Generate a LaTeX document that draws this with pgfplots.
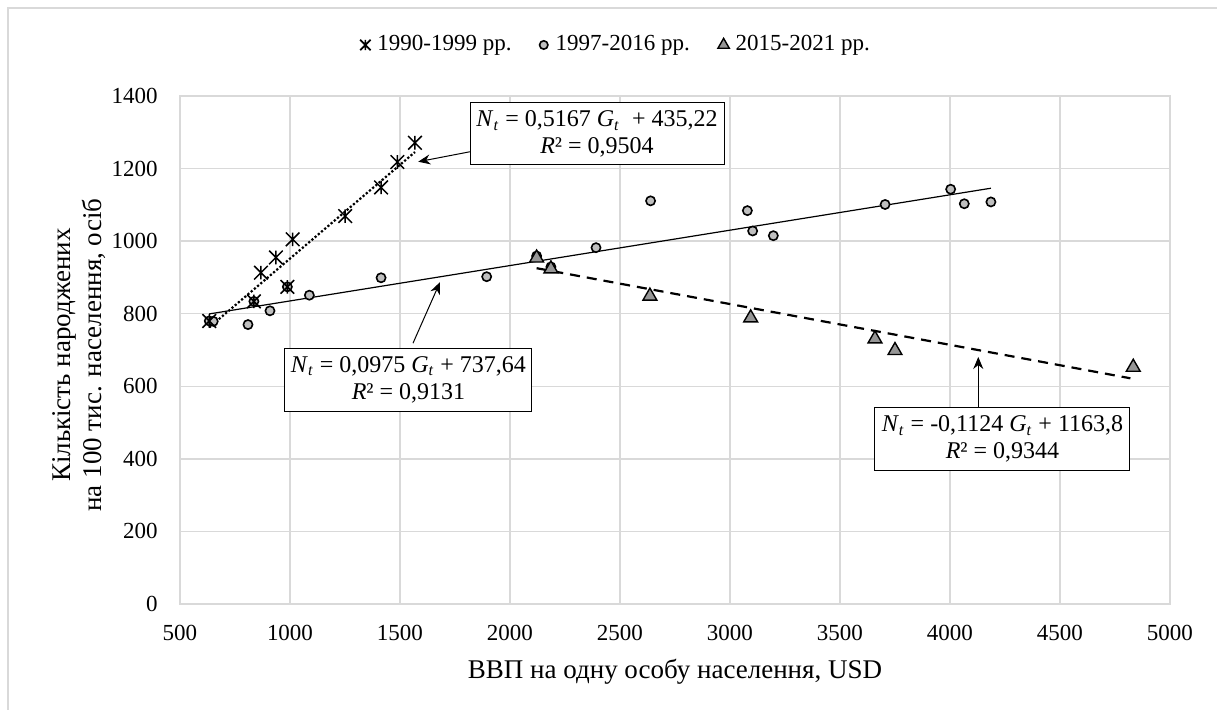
\documentclass[border=0pt]{standalone}
\usepackage{fontspec}
\setmainfont{Liberation Serif}
\usepackage{pgfplots}
\usepackage{pgfplotstable}
\pgfplotsset{compat=1.18}
\usetikzlibrary{arrows.meta}
\definecolor{gridc}{RGB}{217,217,217}
\definecolor{circf}{RGB}{191,191,191}
\definecolor{trif}{RGB}{150,150,150}
\pgfdeclareplotmark{exstar}{%
  \pgfpathmoveto{\pgfqpoint{-\pgfplotmarksize}{-\pgfplotmarksize}}%
  \pgfpathlineto{\pgfqpoint{\pgfplotmarksize}{\pgfplotmarksize}}%
  \pgfpathmoveto{\pgfqpoint{-\pgfplotmarksize}{\pgfplotmarksize}}%
  \pgfpathlineto{\pgfqpoint{\pgfplotmarksize}{-\pgfplotmarksize}}%
  \pgfpathmoveto{\pgfqpoint{0pt}{-\pgfplotmarksize}}%
  \pgfpathlineto{\pgfqpoint{0pt}{\pgfplotmarksize}}%
  \pgfusepathqstroke}

\pgfplotstableread{
x y
633 780
868 913
936 955
1012 1005
988 874
836 834
1251 1069
1414 1148
1488 1218
1568 1271
}\stars

\pgfplotstableread{
x y
633 780
651 779
809 770
836 834
909 808
988 874
1088 851
1414 899
1894 902
2121 959
2186 929
2391 982
2639 1111
3079 1084
3103 1028
3197 1015
3705 1101
4003 1143
4065 1103
4186 1108
}\circs

\pgfplotstableread{
x y
2121 959
2186 929
2636 854
3094 794
3659 736
3750 704
4833 658
}\tris

\begin{document}
\fontsize{11.5}{13.5}\selectfont
\begin{tikzpicture}
\useasboundingbox (0,0) rectangle (608.5pt,355pt);
\draw[gridc, line width=0.6pt] (4pt,0pt) -- (4pt,351pt) -- (608.5pt,351pt);
\begin{axis}[
  at={(90pt,53pt)}, anchor=south west,
  scale only axis, width=495pt, height=254pt,
  xmin=500, xmax=5000, ymin=0, ymax=1400,
  xtick={500,1000,...,5000}, ytick={0,200,...,1400},
  /pgf/number format/1000 sep={},
  /pgf/number format/assume math mode=true,
  grid=major, grid style={gridc, line width=0.7pt},
  axis line style={gridc, line width=0.7pt},
  major tick length=0pt,
  xticklabel style={yshift=-6.7pt},
  yticklabel style={xshift=-7.2pt},
  xlabel={ВВП на одну особу населення, USD},
  xlabel style={at={(axis description cs:0.5,-0.1457)}, anchor=base, font=\fontsize{13.5}{15.5}\selectfont},
  ylabel={Кількість народжених\\на 100 тис. населення, осіб},
  ylabel style={align=center, at={(axis description cs:-0.102,0.490)}, anchor=center, font=\fontsize{13.5}{15.3}\selectfont},
  clip=false,
  legend style={draw=none, fill=none, at={(axis description cs:0.4414,1.1004)}, anchor=center,
    /tikz/every even column/.append style={column sep=12pt}},
  legend columns=3,
  legend image code/.code={\draw[#1] plot coordinates {(0pt,0pt)}; \path[draw=none, fill=none] (0pt,0pt) rectangle (4pt,0.1pt);},
]
% trend lines
\addplot[black, line width=1.1pt, densely dotted, forget plot] coordinates {(633,762.3) (1568,1245.4)};
\addplot[black, line width=0.6pt, forget plot] coordinates {(633,799.4) (4186,1145.8)};
\addplot[black, line width=1.1pt, dash pattern=on 5pt off 3.5pt, forget plot] coordinates {(2121,925.4) (4820,622.0)};
% markers
\addplot[only marks, mark=*, mark size=2.3pt, mark options={fill=circf, draw=black, line width=0.8pt}, forget plot] table {\circs};
\addplot[only marks, mark=exstar, mark size=3.4pt, mark options={draw=black, line width=0.75pt}, forget plot] table {\stars};
\addplot[only marks, mark=triangle*, mark size=4pt, mark options={fill=trif, draw=black, line width=0.7pt, yshift=-1pt}, forget plot] table {\tris};
% legend
\addlegendimage{only marks, mark=exstar, mark size=2.6pt, mark options={draw=black, line width=0.85pt}}
\addlegendentry{1990-1999 рр.}
\addlegendimage{only marks, mark=*, mark size=2.1pt, mark options={fill=circf, draw=black, line width=0.8pt}}
\addlegendentry{1997-2016 рр.}
\addlegendimage{only marks, mark=triangle*, mark size=3.3pt, mark options={fill=trif, draw=black, line width=0.7pt}}
\addlegendentry{2015-2021 рр.}
% annotations
\draw[-{Stealth[length=6pt,width=5pt]}, line width=0.5pt] (axis cs:1818,1246.3) -- (axis cs:1583,1218.8);
\draw[-{Stealth[length=6pt,width=5pt]}, line width=0.5pt] (axis cs:1559,718.6) -- (axis cs:1681.8,886.9);
\draw[-{Stealth[length=6pt,width=5pt]}, line width=0.5pt] (axis cs:4128.6,542.1) -- (axis cs:4128.6,680.8);
\begin{scope}[every node/.style={draw=black, fill=white, line width=0.5pt, align=center, inner sep=0pt, font=\fontsize{12}{13.5}\selectfont}]
\node[minimum width=127pt, minimum height=31pt]
  at (axis cs:2395.5,1295.5) {\textit{N}\textsubscript{\textit{t}} = 0,5167 \textit{G}\textsubscript{\textit{t}}\ \ + 435,22\\\textit{R}² = 0,9504};
\node[minimum width=123.5pt, minimum height=31.5pt]
  at (axis cs:1538.6,618) {\textit{N}\textsubscript{\textit{t}} = 0,0975 \textit{G}\textsubscript{\textit{t}} + 737,64\\\textit{R}² = 0,9131};
\node[minimum width=127.5pt, minimum height=31.5pt]
  at (axis cs:4238.6,455.2) {\textit{N}\textsubscript{\textit{t}} = -0,1124 \textit{G}\textsubscript{\textit{t}} + 1163,8\\\textit{R}² = 0,9344};
\end{scope}
\end{axis}
\end{tikzpicture}
\end{document}
